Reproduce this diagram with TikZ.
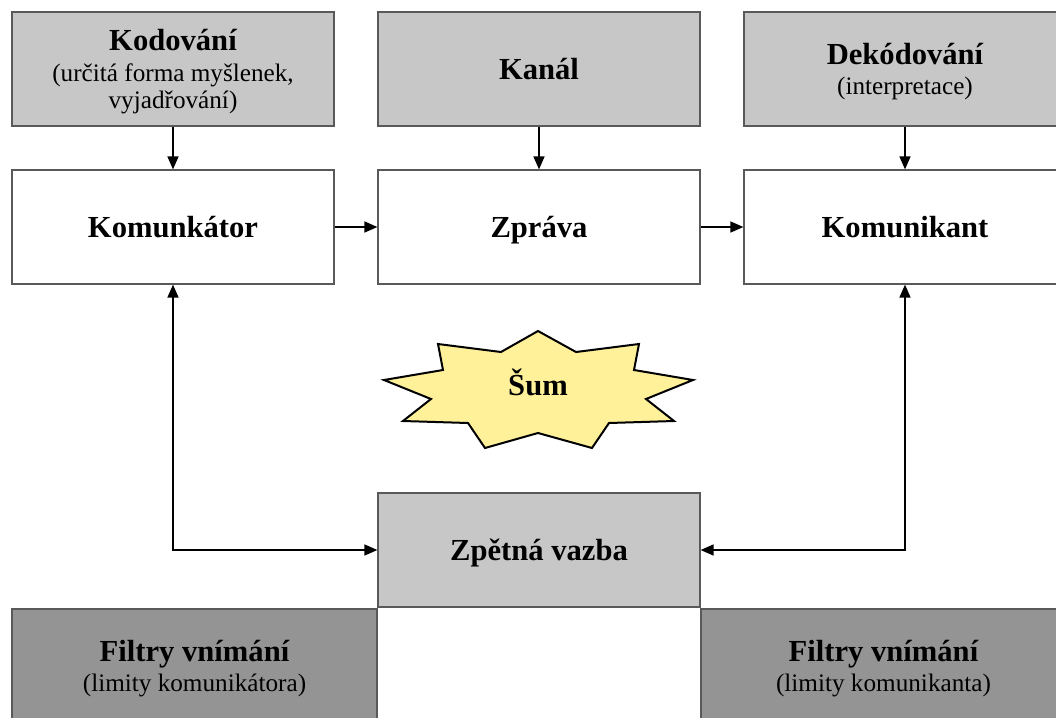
\documentclass[tikz,border=0pt]{standalone}
\usepackage{fontspec}
\setmainfont{Liberation Serif}
\usetikzlibrary{arrows.meta}
\definecolor{sumyellow}{RGB}{255,241,153}
\tikzset{
  box/.style={draw=black!65, line width=0.6pt, minimum width=161pt, minimum height=57pt,
    inner sep=0pt, align=center, font=\fontsize{12.6}{13.3}\selectfont},
  topbox/.style={box, fill=black!22},
  midbox/.style={box, fill=white},
  filterbox/.style={box, fill=black!42, minimum width=182.5pt},
  arr/.style={-{Triangle[length=6.5pt,width=5.5pt]}, line width=0.8pt},
  dblarr/.style={{Triangle[length=6.5pt,width=5.5pt]}-{Triangle[length=6.5pt,width=5.5pt]}, line width=0.8pt},
}
\newcommand{\ttl}[1]{{\fontsize{15.3}{17}\selectfont\bfseries\vphantom{Žp}#1}}
\begin{document}
\begin{tikzpicture}[x=0.5pt,y=-0.5pt]
\useasboundingbox (0,0) rectangle (1056,718);
% top row
\node[topbox] (kod) at (173,69) {\ttl{Kodování}\\[2pt](určitá forma myšlenek,\\vyjadřování)};
\node[topbox] (kanal) at (539,69) {\ttl{Kanál}};
\node[topbox] (dekod) at (905,69) {\ttl{Dekódování}\\[1.5pt](interpretace)};
% middle row
\node[midbox] (komunkator) at (173,227) {\ttl{Komunkátor}};
\node[midbox] (zprava) at (539,227) {\ttl{Zpráva}};
\node[midbox] (komunikant) at (905,227) {\ttl{Komunikant}};
% noise
\draw[fill=sumyellow, line width=1pt] (538,331) -- (576,352) -- (639,344) -- (634,370)
  -- (693,380) -- (646,399) -- (674,421) -- (609,423) -- (592,448) -- (538,433)
  -- (485,448) -- (468,423) -- (403,421) -- (431,399) -- (384,380) -- (443,370)
  -- (438,344) -- (501,352) -- cycle;
\node (sum) at (538,385) {\ttl{Šum}};
% feedback
\node[topbox] (zpetna) at (539,550) {\ttl{Zpětná vazba}};
\node[filterbox] (filtr1) at (194.5,666) {\ttl{Filtry vnímání}\\[1.5pt](limity komunikátora)};
\node[filterbox] (filtr2) at (883.5,666) {\ttl{Filtry vnímání}\\[1.5pt](limity komunikanta)};

\draw[arr] (kod) -- (komunkator);
\draw[arr] (kanal) -- (zprava);
\draw[arr] (dekod) -- (komunikant);
\draw[arr] (komunkator) -- (zprava);
\draw[arr] (zprava) -- (komunikant);
\draw[dblarr] (komunkator.south) |- (zpetna.west);
\draw[dblarr] (komunikant.south) |- (zpetna.east);

\end{tikzpicture}
\end{document}
